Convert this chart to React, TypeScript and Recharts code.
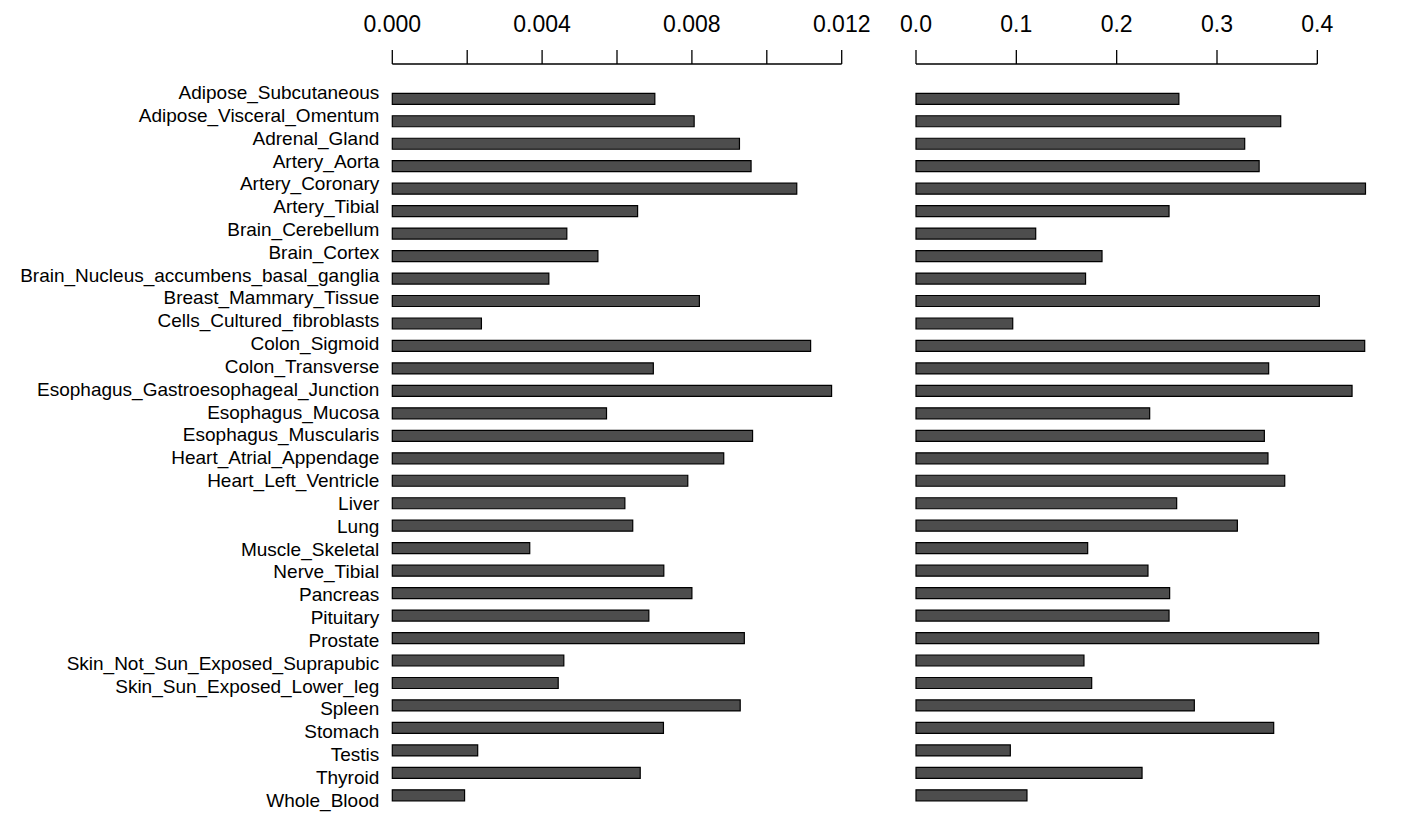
import React from 'react';
import { BarChart, Bar, XAxis, YAxis } from 'recharts';

const tissues = [
  'Adipose_Subcutaneous',
  'Adipose_Visceral_Omentum',
  'Adrenal_Gland',
  'Artery_Aorta',
  'Artery_Coronary',
  'Artery_Tibial',
  'Brain_Cerebellum',
  'Brain_Cortex',
  'Brain_Nucleus_accumbens_basal_ganglia',
  'Breast_Mammary_Tissue',
  'Cells_Cultured_fibroblasts',
  'Colon_Sigmoid',
  'Colon_Transverse',
  'Esophagus_Gastroesophageal_Junction',
  'Esophagus_Mucosa',
  'Esophagus_Muscularis',
  'Heart_Atrial_Appendage',
  'Heart_Left_Ventricle',
  'Liver',
  'Lung',
  'Muscle_Skeletal',
  'Nerve_Tibial',
  'Pancreas',
  'Pituitary',
  'Prostate',
  'Skin_Not_Sun_Exposed_Suprapubic',
  'Skin_Sun_Exposed_Lower_leg',
  'Spleen',
  'Stomach',
  'Testis',
  'Thyroid',
  'Whole_Blood',
];

// left panel values
const leftValues = [
  0.00701, 0.00806, 0.00927, 0.00958, 0.0108, 0.00655, 0.00466, 0.00549,
  0.00418, 0.0082, 0.00238, 0.01117, 0.00697, 0.01173, 0.00572, 0.00962,
  0.00885, 0.00789, 0.00621, 0.00642, 0.00367, 0.00725, 0.008, 0.00685,
  0.0094, 0.00458, 0.00443, 0.00929, 0.00724, 0.00228, 0.00662, 0.00193,
];

// right panel values
const rightValues = [
  0.262, 0.3635, 0.3276, 0.342, 0.448, 0.2522, 0.1193, 0.1854,
  0.169, 0.402, 0.0964, 0.4472, 0.3515, 0.4346, 0.2329, 0.3472,
  0.3508, 0.3675, 0.2598, 0.3203, 0.1711, 0.2312, 0.2528, 0.2522,
  0.4013, 0.1674, 0.1751, 0.2774, 0.3565, 0.094, 0.2253, 0.1106,
];

const leftTicks = [0, 0.002, 0.004, 0.006, 0.008, 0.01, 0.012];
const leftLabelled = [0, 0.004, 0.008, 0.012];
const rightTicks = [0, 0.1, 0.2, 0.3, 0.4];
const rightDomainMax = 0.45;

const data = tissues.map((tissue, i) => ({
  tissue,
  left: leftValues[i],
  right: rightValues[i],
}));

const FONT = '"Liberation Sans", Arial, Helvetica, sans-serif';
const BAR_FILL = '#4d4d4d';

// the names are spaced a little wider than the bars in the original
const LABEL_DRIFT = 0.36;

function CategoryTick(props: any) {
  const { x, y, payload, index } = props;
  const i = typeof index === 'number' ? index : payload.index ?? 0;
  return (
    <text x={x} y={y + 0.5 + i * LABEL_DRIFT} textAnchor="end" fontFamily={FONT} fontSize={19} fill="#000">
      {payload.value}
    </text>
  );
}

function ValueTick(props: any) {
  const { x, y, payload, tickFormatter } = props;
  const label = tickFormatter ? tickFormatter(payload.value) : String(payload.value);
  return (
    <text x={x} y={y} textAnchor="middle" fontFamily={FONT} fontSize={23} fill="#000">
      {label}
    </text>
  );
}

// draws the axis line only between the first and last tick
function PartialAxisLine(props: any) {
  const vb = props.viewBox;
  if (!vb) return null;
  const end = vb.x + (vb.width * props.last) / props.domainMax;
  const yy = vb.y + vb.height;
  return <line x1={vb.x} x2={end} y1={yy} y2={yy} stroke="#000" strokeWidth={1.3} />;
}

const formatLeft = (v: number) =>
  leftLabelled.some((t) => Math.abs(t - v) < 1e-9) ? v.toFixed(3) : '';
const formatRight = (v: number) => v.toFixed(1);

export default function App() {
  return (
    <div style={{ position: 'absolute', left: 0, top: 0, width: 1420, height: 840, background: '#fff' }}>
      <div style={{ position: 'absolute', left: 0, top: 0 }}>
        <BarChart
          width={890}
          height={840}
          data={data}
          layout="vertical"
          margin={{ top: 0, right: 48.3, bottom: 33.7, left: 0 }}
        >
          <XAxis
            type="number"
            orientation="top"
            domain={[0, 0.012]}
            ticks={leftTicks}
            interval={0}
            height={64}
            tickSize={14}
            tickMargin={18}
            stroke="#000"
            axisLine={{ stroke: '#000', strokeWidth: 1.3 }}
            tickLine={{ stroke: '#000', strokeWidth: 1.3 }}
            tickFormatter={formatLeft}
            tick={<ValueTick />}
          />
          <YAxis
            type="category"
            dataKey="tissue"
            width={392.3}
            axisLine={false}
            tickLine={false}
            tickSize={0}
            tickMargin={13}
            interval={0}
            padding={{ top: 23.3, bottom: 0 }}
            tick={<CategoryTick />}
          />
          <Bar
            dataKey="left"
            barSize={11}
            fill={BAR_FILL}
            stroke="#000"
            strokeWidth={1.2}
            isAnimationActive={false}
          />
        </BarChart>
      </div>
      <div style={{ position: 'absolute', left: 890, top: 0 }}>
        <BarChart
          width={530}
          height={840}
          data={data}
          layout="vertical"
          margin={{ top: 0, right: 52.5, bottom: 33.7, left: 26 }}
        >
          <XAxis
            type="number"
            orientation="top"
            domain={[0, rightDomainMax]}
            ticks={rightTicks}
            interval={0}
            height={64}
            tickSize={14}
            tickMargin={18}
            stroke="#000"
            axisLine={false}
            tickLine={{ stroke: '#000', strokeWidth: 1.3 }}
            tickFormatter={formatRight}
            tick={<ValueTick />}
            label={<PartialAxisLine last={rightTicks[rightTicks.length - 1]} domainMax={rightDomainMax} />}
          />
          <YAxis
            type="category"
            dataKey="tissue"
            hide
            interval={0}
            padding={{ top: 23.3, bottom: 0 }}
          />
          <Bar
            dataKey="right"
            barSize={11}
            fill={BAR_FILL}
            stroke="#000"
            strokeWidth={1.2}
            isAnimationActive={false}
          />
        </BarChart>
      </div>
    </div>
  );
}
